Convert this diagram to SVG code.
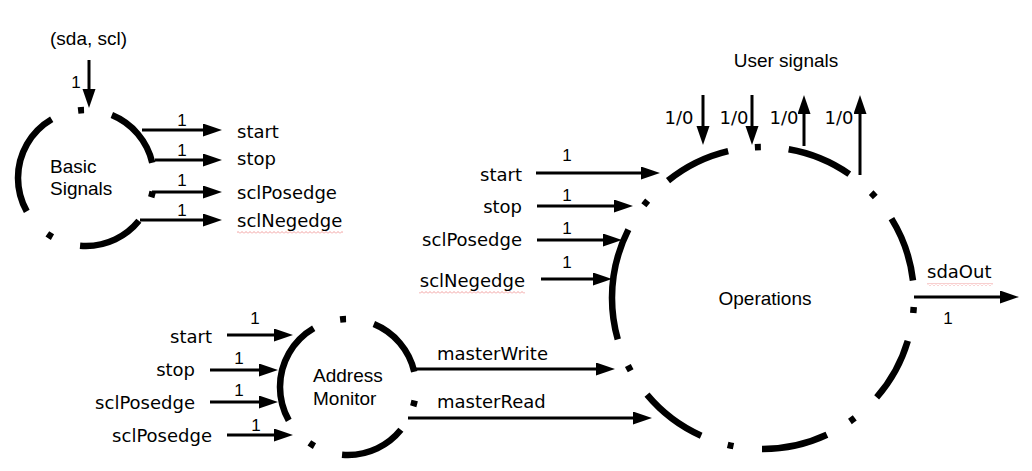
<svg xmlns="http://www.w3.org/2000/svg" width="1032" height="471" viewBox="0 0 1032 471">
<style>
.ring{fill:none;stroke:#000;stroke-width:6.5}
.small{stroke-dasharray:0 13.6 6 26.6 66.5 29 6 30.7 105.6 27.9 6 28.5 64.7 16}
.big{stroke-dasharray:0 9 6 28.5 65 30 6 26.6 67 28.7 6 28 68.5 29 6 28 112.8 29 6 28.5 67.5 27 6 28 66 28.7 6 27 66 18}
.c line{stroke:#000;stroke-width:3;marker-end:url(#ah)}
.lbl{font-family:"Liberation Sans",Arial,sans-serif;font-size:19px;fill:#000}
.sig{font-family:"DejaVu Sans",sans-serif;font-size:18px;fill:#000}
.one{font-family:"Liberation Sans",Arial,sans-serif;font-size:17px;fill:#000;text-anchor:middle}
.r{text-anchor:end}
.sq{fill:url(#zz)}
</style>
<defs>
<marker id="ah" markerUnits="userSpaceOnUse" markerWidth="20" markerHeight="14" refX="1" refY="6.5" orient="auto">
<path d="M0,0 L19,6.5 L0,13 z" fill="#000"/>
</marker>
<pattern id="zz" width="4" height="3" patternUnits="userSpaceOnUse">
<path d="M0,2.5 L2,0.5 L4,2.5" fill="none" stroke="#e88" stroke-width="0.8"/>
</pattern>
</defs>
<rect width="1032" height="471" fill="#fff"/>

<g id="basic-signals">
<circle class="ring small" cx="86" cy="178" r="68"/>
<text class="lbl" x="50" y="173">Basic</text>
<text class="lbl" x="50" y="195">Signals</text>
</g>

<g id="address-monitor">
<circle class="ring small" cx="348" cy="387" r="68"/>
<text class="lbl" x="313" y="382">Address</text>
<text class="lbl" x="313" y="405">Monitor</text>
</g>

<g id="operations">
<circle class="ring big" cx="763" cy="298" r="151"/>
<text class="lbl" x="765" y="305" text-anchor="middle">Operations</text>
</g>

<g id="labels">
<text class="lbl" x="50" y="45">(sda, scl)</text>
<text class="lbl" x="786" y="67" text-anchor="middle">User signals</text>
<text class="sig" x="237" y="138">start</text>
<text class="sig" x="237" y="165">stop</text>
<text class="sig" x="237" y="199">sclPosedge</text>
<text class="sig" x="237" y="227">sclNegedge</text>
<rect class="sq" x="237" y="231" width="106" height="3"/>
<text class="sig r" x="522" y="181">start</text>
<text class="sig r" x="522" y="213">stop</text>
<text class="sig r" x="522" y="246">sclPosedge</text>
<text class="sig r" x="525" y="287">sclNegedge</text>
<rect class="sq" x="419" y="291" width="106" height="3"/>
<text class="sig r" x="212" y="343">start</text>
<text class="sig r" x="195" y="376">stop</text>
<text class="sig r" x="195" y="409">sclPosedge</text>
<text class="sig r" x="212" y="442">sclPosedge</text>
<text class="sig" x="437" y="360">masterWrite</text>
<text class="sig" x="437" y="408">masterRead</text>
<text class="sig" x="927" y="278">sdaOut</text>
<rect class="sq" x="927" y="283" width="66" height="3"/>
</g>

<g id="connectors" class="c">
<line x1="89" y1="60" x2="89" y2="90"/>
<line x1="142" y1="130" x2="204" y2="130"/>
<line x1="155" y1="160" x2="204" y2="160"/>
<line x1="152" y1="192" x2="204" y2="192"/>
<line x1="140" y1="220" x2="204" y2="220"/>

<line x1="536" y1="173" x2="642" y2="173"/>
<line x1="537" y1="206" x2="615" y2="206"/>
<line x1="537" y1="240" x2="604" y2="240"/>
<line x1="541" y1="279" x2="594" y2="279"/>

<line x1="227" y1="335" x2="275" y2="335"/>
<line x1="210" y1="370" x2="260" y2="370"/>
<line x1="210" y1="402" x2="260" y2="402"/>
<line x1="227" y1="435" x2="275" y2="435"/>

<line x1="415" y1="369" x2="597" y2="369"/>
<line x1="408" y1="418" x2="634" y2="418"/>

<line x1="703" y1="95" x2="703" y2="127"/>
<line x1="752" y1="95" x2="752" y2="127"/>
<line x1="804" y1="146" x2="804" y2="113"/>
<line x1="860" y1="175" x2="860" y2="113"/>

<line x1="914" y1="297" x2="1001" y2="297"/>
</g>

<g id="connector-labels">
<text class="one" x="76" y="88">1</text>
<text class="one" x="182" y="126">1</text>
<text class="one" x="182" y="156">1</text>
<text class="one" x="182" y="186">1</text>
<text class="one" x="182" y="216">1</text>
<text class="one" x="567" y="161">1</text>
<text class="one" x="567" y="201">1</text>
<text class="one" x="567" y="234">1</text>
<text class="one" x="567" y="268">1</text>
<text class="one" x="255" y="324">1</text>
<text class="one" x="239" y="364">1</text>
<text class="one" x="239" y="396">1</text>
<text class="one" x="256" y="431">1</text>
<text class="one" x="948" y="324">1</text>
<text class="sig" x="679" y="124" text-anchor="middle">1/0</text>
<text class="sig" x="734" y="124" text-anchor="middle">1/0</text>
<text class="sig" x="784" y="124" text-anchor="middle">1/0</text>
<text class="sig" x="839" y="124" text-anchor="middle">1/0</text>
</g>
</svg>
